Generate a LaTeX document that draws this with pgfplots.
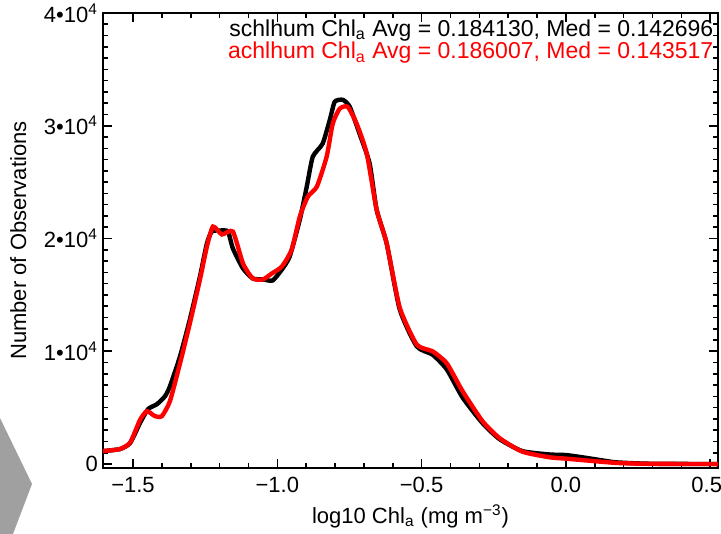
\documentclass[border=0pt]{standalone}
\usepackage{fontspec}
\setmainfont{Liberation Sans}
\usepackage{pgfplots}
\usepackage{pgfplotstable}
\pgfplotsset{compat=1.18}

\pgfplotstableread{
x y
-1.604 1150
-1.545 1330
-1.510 1860
-1.476 3630
-1.448 4870
-1.417 5310
-1.389 6020
-1.372 6900
-1.337 9560
-1.303 12830
-1.268 16640
-1.244 19560
-1.227 20620
-1.199 20710
-1.171 20620
-1.154 19120
-1.119 17350
-1.085 16460
-1.050 16370
-1.016 16280
-0.984 17260
-0.957 18410
-0.922 21680
-0.898 24600
-0.877 27260
-0.843 28410
-0.818 30530
-0.801 32130
-0.773 32300
-0.749 31680
-0.715 29290
-0.680 26640
-0.656 22570
-0.621 19560
-0.576 13720
-0.517 10440
-0.462 9700
-0.413 8400
-0.358 5900
-0.289 3630
-0.230 2210
-0.151 1150
-0.057 850
0.000 800
0.057 600
0.120 350
0.175 150
0.289 30
0.527 0
}\schl

\pgfplotstableread{
x y
-1.604 1150
-1.545 1330
-1.510 1900
-1.476 3900
-1.452 4690
-1.424 4250
-1.400 4250
-1.372 5580
-1.337 8940
-1.303 12480
-1.268 16370
-1.244 19290
-1.223 21060
-1.192 20360
-1.154 20620
-1.119 17790
-1.085 16460
-1.050 16370
-1.019 16900
-0.984 17520
-0.950 19030
-0.922 21950
-0.894 23720
-0.863 24600
-0.829 27260
-0.808 30180
-0.784 31510
-0.756 31680
-0.725 30180
-0.690 27520
-0.656 22570
-0.621 19560
-0.576 13900
-0.517 10600
-0.462 10000
-0.413 8940
-0.358 6460
-0.289 3800
-0.230 2300
-0.151 1100
-0.057 600
0.000 480
0.057 350
0.175 100
0.289 20
0.527 0
}\achl

\definecolor{chev}{RGB}{160,160,160}

\begin{document}
\begin{tikzpicture}
\begin{axis}[
  at={(0,0)}, anchor=south west,
  scale only axis,
  width=307.5pt, height=227.5pt,
  xmin=-1.604, xmax=0.527,
  ymin=-350, ymax=40000,
  axis line style={line width=0.9pt},
  tick style={line width=0.8pt, black},
  major tick length=4.5pt, minor tick length=2.5pt,
  tick align=inside,
  xtick={-1.5,-1.0,-0.5,0.0,0.5},
  xticklabels={−1.5,−1.0,−0.5,0.0,{\hspace*{-3.5pt}0.5}},
  minor x tick num=4,
  ytick={0,10000,20000,30000,40000},
  yticklabels={0,{1•10\textsuperscript{4}},{2•10\textsuperscript{4}},{3•10\textsuperscript{4}},{4•10\textsuperscript{4}}},
  minor y tick num=9,
  scaled y ticks=false,
  tick label style={font=\fontsize{11}{13}\selectfont},
  xticklabel style={yshift=-1pt},
  yticklabel style={xshift=1pt},
  label style={font=\fontsize{11}{13}\selectfont},
  xlabel={log10 Chl\textsubscript{a} (mg m\textsuperscript{−3})},
  ylabel={Number of Observations},
  xlabel style={yshift=1pt},
  ylabel style={yshift=2pt},
  clip=true,
]
\addplot[black, line width=2.2pt, smooth, tension=0.35] table[x=x,y=y] {\schl};
\addplot[red, line width=2.2pt, smooth, tension=0.35] table[x=x,y=y] {\achl};
\node[anchor=east, font=\fontsize{11.5}{13}\selectfont, text=black, inner sep=0pt] at (rel axis cs:0.993,0.962) {schlhum Chl\textsubscript{a} Avg = 0.184130, Med = 0.142696};
\node[anchor=east, font=\fontsize{11.5}{13}\selectfont, text=red, inner sep=0pt] at (rel axis cs:0.993,0.912) {achlhum Chl\textsubscript{a} Avg = 0.186007, Med = 0.143517};
\end{axis}
\fill[chev] (-51.5pt,25pt) -- (-35.5pt,-8pt) -- (-45pt,-33pt) -- (-51.5pt,-33pt) -- cycle;
\pgfresetboundingbox
\path[use as bounding box] (-51.5pt,-33pt) rectangle (309pt,234pt);
\end{tikzpicture}
\end{document}
